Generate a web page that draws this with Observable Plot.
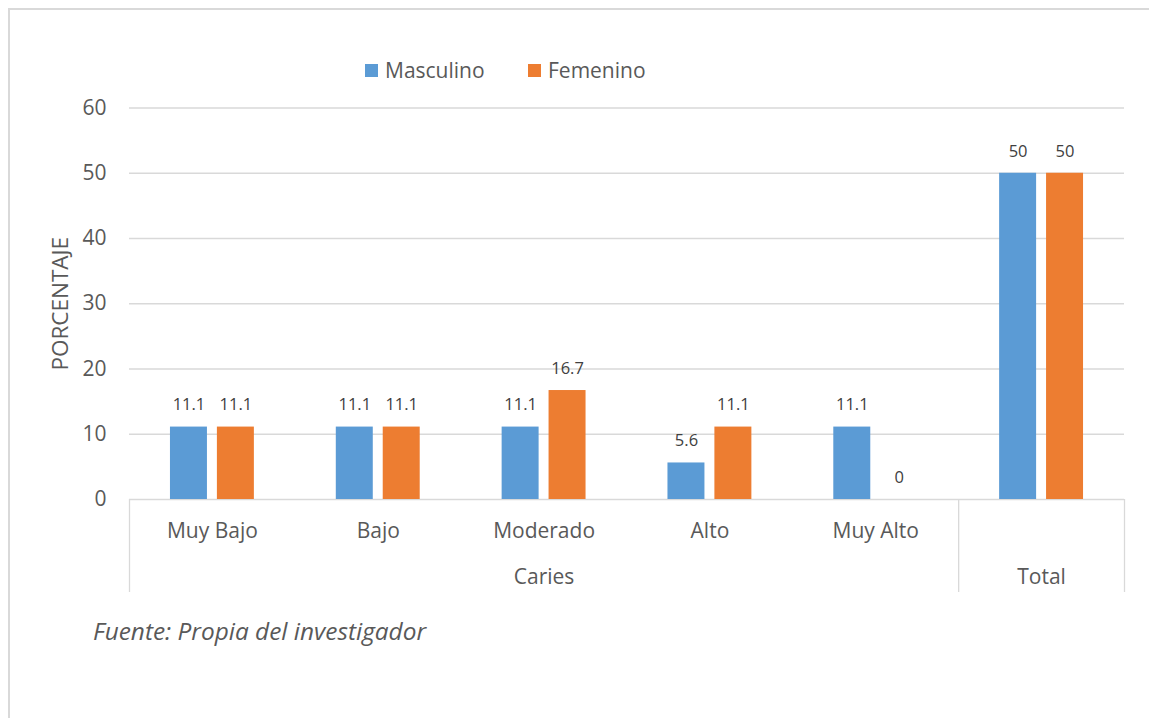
<!DOCTYPE html>
<html>
<head>
<meta charset="utf-8">
<script src="https://cdn.jsdelivr.net/npm/d3@7"></script>
<script src="https://cdn.jsdelivr.net/npm/@observablehq/plot@0.6"></script>
<style>
  html, body { margin: 0; padding: 0; background: #fff; overflow: hidden; }
  #wrap { position: relative; width: 1149px; height: 718px; font-family: "Open Sans", sans-serif; color: #595959; }
  #border { position: absolute; left: 8px; top: 8px; width: 1200px; height: 800px; border: 2px solid #d9d9d9; box-sizing: border-box; }
  #legend { position: absolute; top: 56px; left: 0; height: 28px; font-size: 21px; }
  .item { position: absolute; top: 0; display: flex; align-items: center; height: 28px; white-space: nowrap; }
  .sw { width: 13px; height: 13px; margin-right: 7px; }
  #chart { position: absolute; left: 0; top: 90px; }
  #caption { position: absolute; left: 93px; top: 614px; font-size: 24.4px; line-height: 33px; font-style: italic; color: #595959; white-space: nowrap; }
</style>
</head>
<body>
<div id="wrap">
  <div id="border"></div>
  <div id="legend"></div>
  <div id="chart"></div>
  <div id="caption"></div>
</div>
<script>
// ---- Data ----
const categories = ["Muy Bajo", "Bajo", "Moderado", "Alto", "Muy Alto", ""];
const groups = ["Caries", "Caries", "Caries", "Caries", "Caries", "Total"];
const series = ["Masculino", "Femenino"];
const masculino = [11.1, 11.1, 11.1, 5.6, 11.1, 50];
const femenino = [11.1, 11.1, 16.7, 11.1, 0, 50];
const yTicks = [0, 10, 20, 30, 40, 50, 60];
const yLabel = "PORCENTAJE";
const caption = "Fuente: Propia del investigador";

// ---- Styles / layout ----
const colors = ["#5B9BD5", "#ED7D31"];
const barWidth = 0.223;   // fraction of a category slot
const barGap = 0.06;      // fraction of a category slot
const W = 1149, H = 520;
const mTop = 17.5, mBottom = 111, mLeft = 129, mRight = 25;
const frameH = H - mTop - mBottom;
const lowerAxisDepth = 93;

// ---- Derived tables ----
const rows = [];
categories.forEach((c, i) => {
  [masculino, femenino].forEach((vals, s) => {
    const center = i + 0.5;
    const x1 = s === 0 ? center - barGap / 2 - barWidth : center + barGap / 2;
    rows.push({cat: c, idx: i, series: series[s], value: vals[i], x1, x2: x1 + barWidth});
  });
});
const catLabels = categories.map((c, i) => ({label: c, mid: i + 0.5})).filter(d => d.label !== "");
const groupRuns = [];
groups.forEach((g, i) => {
  const last = groupRuns[groupRuns.length - 1];
  if (last && last.label === g) last.end = i + 1;
  else groupRuns.push({label: g, start: i, end: i + 1});
});
const bounds = [0, ...groupRuns.map(r => r.end)];

// ---- Legend ----
const legend = document.getElementById("legend");
const legendX = [365, 528];
series.forEach((s, i) => {
  const it = document.createElement("div");
  it.className = "item";
  it.style.left = legendX[i] + "px";
  it.innerHTML = `<div class="sw" style="background:${colors[i]}"></div><span>${s}</span>`;
  legend.appendChild(it);
});
document.getElementById("caption").textContent = caption;

// ---- Plot ----
const chart = Plot.plot({
  width: W,
  height: H,
  marginTop: mTop,
  marginBottom: mBottom,
  marginLeft: mLeft,
  marginRight: mRight,
  style: {fontFamily: "Open Sans, sans-serif", fontSize: "21px", color: "#595959", background: "transparent", overflow: "visible"},
  x: {domain: [0, categories.length], axis: null},
  y: {domain: [0, 60], ticks: 6, tickSize: 0, tickPadding: 23, label: null, tickFormat: d => String(d)},
  color: {domain: series, range: colors},
  marks: [
    Plot.ruleY(yTicks, {y: d => d, stroke: "#d9d9d9", strokeWidth: 1.3}),
    Plot.rectY(rows, {x1: "x1", x2: "x2", y: "value", fill: "series"}),
    Plot.text(rows, {x: d => (d.x1 + d.x2) / 2, y: "value", text: d => String(d.value), dy: -22, fontSize: 16.5, fill: "#404040", lineAnchor: "middle"}),
    Plot.ruleX(bounds, {x: d => d, insetTop: frameH, insetBottom: -lowerAxisDepth, stroke: "#d9d9d9", strokeWidth: 1.3}),
    Plot.text(catLabels, {x: "mid", text: "label", frameAnchor: "bottom", dy: 32, fontSize: 21, fill: "#595959", lineAnchor: "middle"}),
    Plot.text(groupRuns, {x: d => (d.start + d.end) / 2, text: "label", frameAnchor: "bottom", dy: 78, fontSize: 21, fill: "#595959", lineAnchor: "middle"}),
    Plot.text([yLabel], {frameAnchor: "left", dx: -69, rotate: -90, textAnchor: "middle", fontSize: 22.5, fill: "#595959", lineAnchor: "middle"})
  ]
});
document.getElementById("chart").appendChild(chart);
</script>
</body>
</html>
